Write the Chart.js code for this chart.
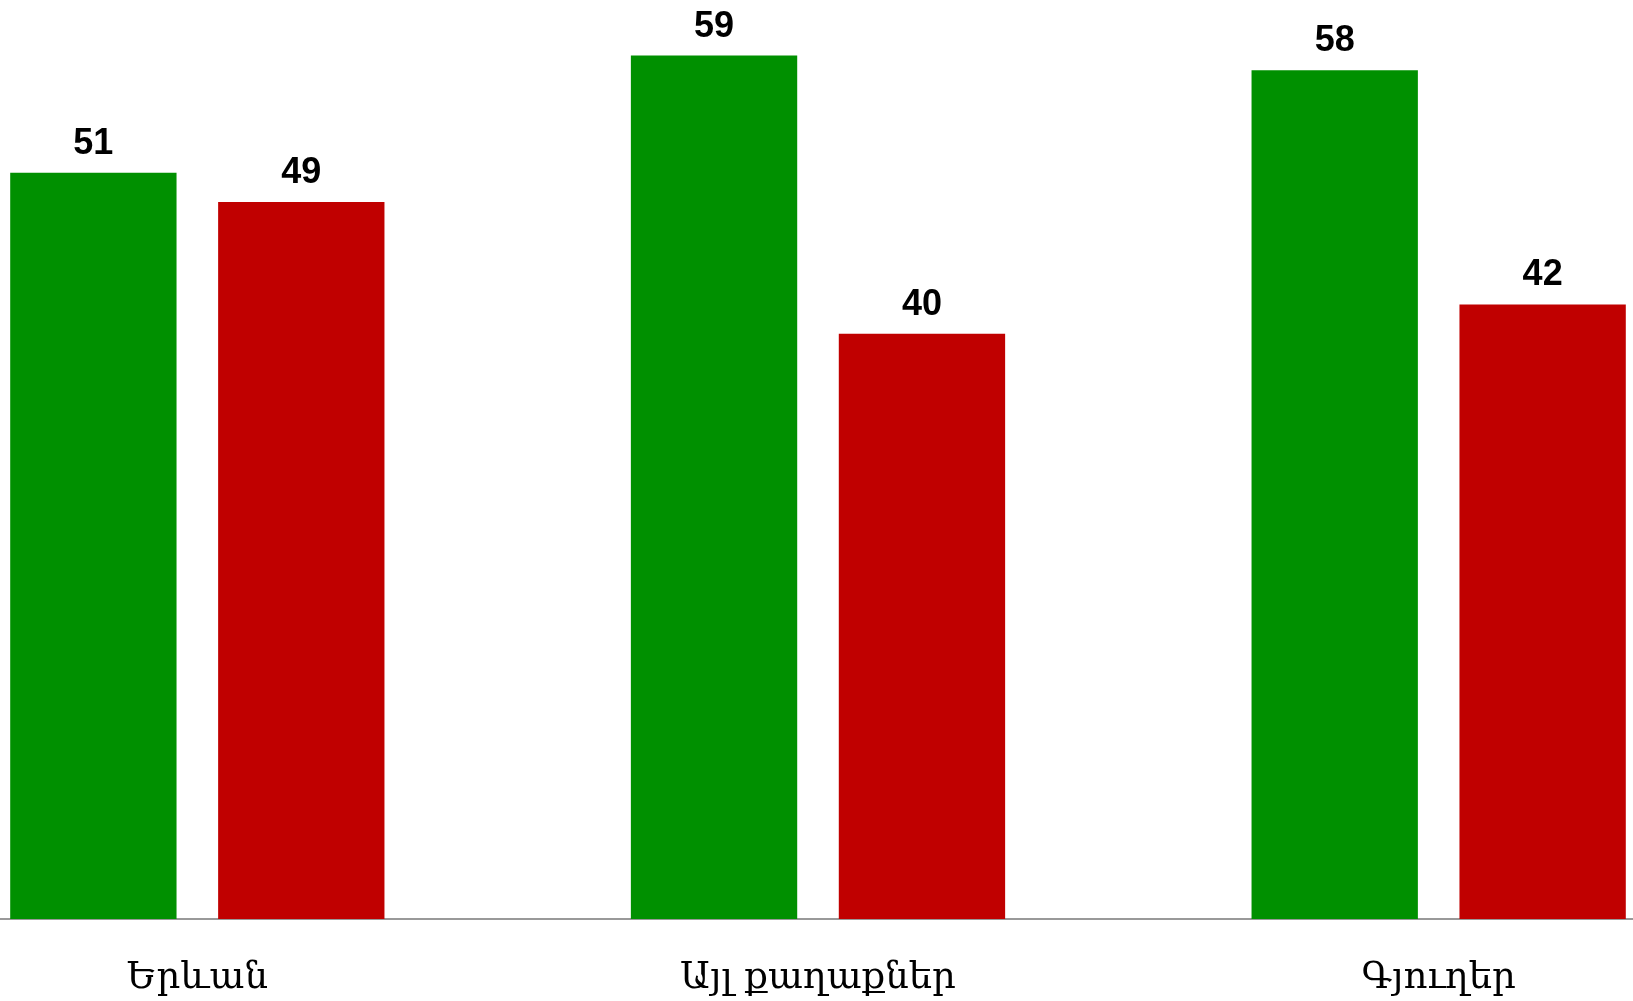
<!DOCTYPE html>
<html>
<head>
<meta charset="utf-8">
<script src="https://cdn.jsdelivr.net/npm/chart.js@4/dist/chart.umd.min.js"></script>
<style>
  html, body { margin: 0; padding: 0; background: #fff; overflow: hidden; }
  #wrap { position: absolute; left: -113px; top: 0; width: 1862px; height: 1001px; }
</style>
</head>
<body>
<div id="wrap"><canvas id="chart" width="1862" height="1001"></canvas></div>
<script>
// data
const categories = ['Երևան', 'Այլ քաղաքներ', 'Գյուղեր'];
const greenValues = [51, 59, 58];
const redValues = [49, 40, 42];

// value labels above bars
const valueLabels = {
  id: 'valueLabels',
  afterDatasetsDraw(chart) {
    const ctx = chart.ctx;
    ctx.save();
    ctx.font = 'bold 36px "Liberation Sans", Arial, sans-serif';
    ctx.fillStyle = '#000';
    ctx.textAlign = 'center';
    ctx.textBaseline = 'alphabetic';
    chart.data.datasets.forEach((ds, i) => {
      chart.getDatasetMeta(i).data.forEach((bar, j) => {
        ctx.fillText(ds.data[j], bar.x, bar.y - 19);
      });
    });
    ctx.restore();
  }
};

const ctx = document.getElementById('chart');
new Chart(ctx, {
  type: 'bar',
  data: {
    labels: categories,
    datasets: [
      {data: greenValues, backgroundColor: '#009000', barPercentage: 0.8, categoryPercentage: 0.67},
      {data: redValues, backgroundColor: '#c00000', barPercentage: 0.8, categoryPercentage: 0.67}
    ]
  },
  options: {
    responsive: false,
    animation: false,
    layout: {padding: 0},
    plugins: {legend: {display: false}, tooltip: {enabled: false}},
    scales: {
      x: {
        grid: {display: false, drawTicks: false},
        border: {display: true, color: '#999', width: 2},
        ticks: {
          color: '#000',
          padding: 37,
          font: {family: '"DejaVu Serif", serif', size: 37}
        },
        afterFit(scale) { scale.height = 82; }
      },
      y: {
        display: false,
        min: 0,
        max: 62.8
      }
    }
  },
  plugins: [valueLabels]
});
</script>
</body>
</html>
